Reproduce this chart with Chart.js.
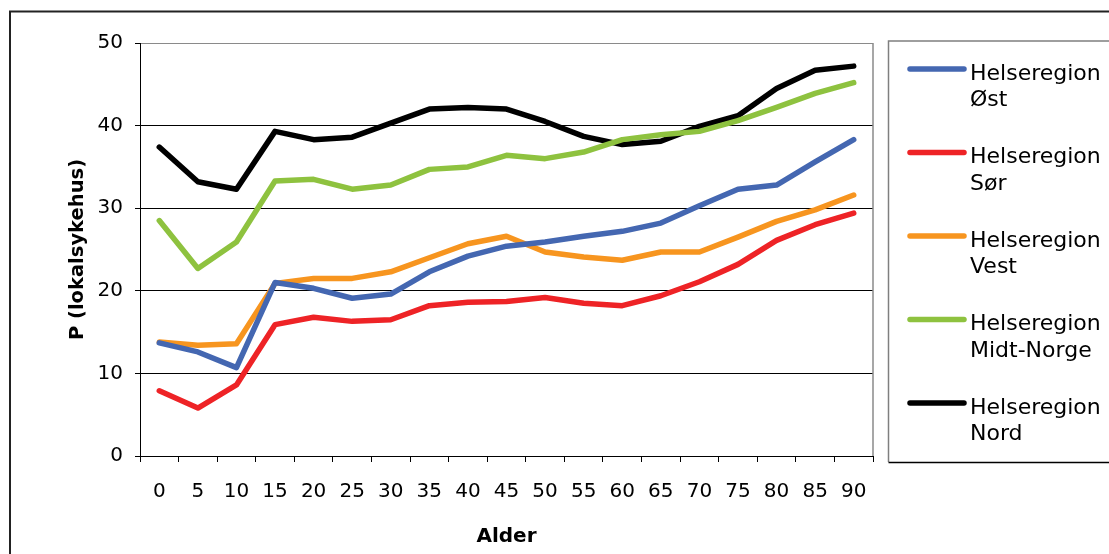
<!DOCTYPE html>
<html>
<head>
<meta charset="utf-8">
<script src="https://cdn.jsdelivr.net/npm/chart.js@4/dist/chart.umd.min.js"></script>
<style>
  html, body { margin: 0; padding: 0; background: #fff; }
  #wrap { width: 1109px; height: 554px; position: relative; }
  canvas { display: block; }
</style>
</head>
<body>
<div id="wrap"><canvas id="chart" width="1109" height="554"></canvas></div>
<script>
// Age groups (x categories)
const ages = ['0', '5', '10', '15', '20', '25', '30', '35', '40', '45',
              '50', '55', '60', '65', '70', '75', '80', '85', '90'];
// Y axis tick values
const yTicks = [0, 10, 20, 30, 40, 50];

// Series names
const regionNames = ['Helseregion Øst', 'Helseregion Sør', 'Helseregion Vest',
                     'Helseregion Midt-Norge', 'Helseregion Nord'];

// P (lokalsykehus) by age, one array per health region
const ost  = [13.7, 12.6, 10.7, 21.0, 20.3, 19.1, 19.6, 22.3, 24.2, 25.4, 25.9, 26.6, 27.2, 28.2, 30.3, 32.3, 32.8, 35.6, 38.3];
const sor  = [7.9, 5.8, 8.6, 15.9, 16.8, 16.3, 16.5, 18.2, 18.6, 18.7, 19.2, 18.5, 18.2, 19.4, 21.1, 23.2, 26.1, 28.0, 29.4];
const vest = [13.8, 13.4, 13.6, 20.9, 21.5, 21.5, 22.3, 24.0, 25.7, 26.6, 24.7, 24.1, 23.7, 24.7, 24.7, 26.5, 28.4, 29.8, 31.6];
const midt = [28.5, 22.7, 25.9, 33.3, 33.5, 32.3, 32.8, 34.7, 35.0, 36.4, 36.0, 36.8, 38.3, 38.9, 39.3, 40.6, 42.2, 43.9, 45.2];
const nord = [37.4, 33.2, 32.3, 39.3, 38.3, 38.6, 40.3, 42.0, 42.2, 42.0, 40.5, 38.7, 37.7, 38.1, 39.9, 41.2, 44.5, 46.7, 47.2];

const seriesValues = [ost, sor, vest, midt, nord];
const seriesColors = ['#4467B1', '#EE2326', '#F7951F', '#8EC23F', '#000000'];

const FONT = "'DejaVu Sans', Verdana, sans-serif";
const LINE_W = 5.5;

const datasets = seriesValues.map((vals, i) => ({
  label: regionNames[i],
  data: vals,
  borderColor: seriesColors[i],
  backgroundColor: seriesColors[i],
  borderWidth: LINE_W,
  borderCapStyle: 'round',
  borderJoinStyle: 'round',
  pointRadius: 0,
  pointHoverRadius: 0,
  tension: 0,
  fill: false
}));

// Outer frame, plot-area right edge and the boxed legend on the right
const framePlugin = {
  id: 'frameAndLegend',
  beforeDraw(chart) {
    const ctx = chart.ctx;
    ctx.save();
    ctx.fillStyle = '#fff';
    ctx.fillRect(0, 0, chart.width, chart.height);
    ctx.strokeStyle = '#222';
    ctx.lineWidth = 2;
    ctx.strokeRect(10, 11.5, chart.width + 20, chart.height + 20);
    ctx.restore();
  },
  afterDraw(chart) {
    const ctx = chart.ctx;
    const a = chart.chartArea;
    ctx.save();
    // right edge of plot area
    ctx.strokeStyle = '#8a8a8a';
    ctx.lineWidth = 1.5;
    ctx.beginPath();
    ctx.moveTo(a.right, a.top);
    ctx.lineTo(a.right, a.bottom);
    ctx.stroke();

    // legend box
    const bx = 888.5, by = 41, bw = 240, bh = 421;
    ctx.lineWidth = 1.5;
    ctx.strokeStyle = '#7f7f7f';
    ctx.beginPath();
    ctx.moveTo(bx, by + bh);
    ctx.lineTo(bx, by);
    ctx.lineTo(bx + bw, by);
    ctx.stroke();
    ctx.strokeStyle = '#000';
    ctx.beginPath();
    ctx.moveTo(bx, by + bh + 0.5);
    ctx.lineTo(bx + bw, by + bh + 0.5);
    ctx.stroke();

    // legend entries
    ctx.font = '22px ' + FONT;
    ctx.textAlign = 'left';
    ctx.textBaseline = 'alphabetic';
    chart.data.datasets.forEach((ds, i) => {
      const y = 69 + i * 83.5;
      ctx.strokeStyle = ds.borderColor;
      ctx.lineWidth = LINE_W;
      ctx.lineCap = 'round';
      ctx.beginPath();
      ctx.moveTo(910, y);
      ctx.lineTo(964, y);
      ctx.stroke();
      const sp = ds.label.indexOf(' ');
      const l1 = ds.label.slice(0, sp);
      const l2 = ds.label.slice(sp + 1);
      ctx.fillStyle = '#000';
      ctx.fillText(l1, 970, y + 10.5);
      ctx.fillText(l2, 970, y + 37.2);
    });
    ctx.restore();
  }
};

new Chart(document.getElementById('chart'), {
  type: 'line',
  data: { labels: ages, datasets },
  plugins: [framePlugin],
  options: {
    responsive: false,
    animation: false,
    devicePixelRatio: 1,
    layout: { padding: { left: 0, top: 43, right: 236, bottom: 0 } },
    plugins: {
      legend: { display: false },
      tooltip: { enabled: false }
    },
    scales: {
      x: {
        type: 'category',
        offset: true,
        afterFit(scale) { scale.height = 98; },
        grid: {
          display: true,
          offset: true,
          drawOnChartArea: false,
          drawTicks: true,
          tickLength: 6,
          color: '#000',
          tickColor: '#000'
        },
        border: { display: true, color: '#000', width: 1 },
        ticks: {
          font: { family: FONT, size: 20 },
          color: '#000',
          padding: 18,
          maxRotation: 0,
          autoSkip: false
        },
        title: {
          display: true,
          text: 'Alder',
          color: '#000',
          font: { family: FONT, size: 20, weight: 'bold' },
          padding: { top: 0, bottom: 5 }
        }
      },
      y: {
        min: yTicks[0],
        max: yTicks[yTicks.length - 1],
        afterFit(scale) { scale.width = 140; },
        afterBuildTicks(scale) { scale.ticks = yTicks.map(v => ({ value: v })); },
        grid: {
          display: true,
          drawTicks: true,
          tickLength: 5,
          lineWidth: 1,
          color: (c) => (c.tick && c.tick.value === yTicks[yTicks.length - 1]) ? '#8a8a8a' : '#000',
          tickColor: '#000'
        },
        border: { display: true, color: '#000', width: 1 },
        ticks: {
          font: { family: FONT, size: 20 },
          color: '#000',
          padding: 12
        },
        title: {
          display: true,
          text: 'P (lokalsykehus)',
          color: '#000',
          font: { family: FONT, size: 19.5, weight: 'bold' },
          padding: { top: 65.8, bottom: 0 }
        }
      }
    }
  }
});
</script>
</body>
</html>
